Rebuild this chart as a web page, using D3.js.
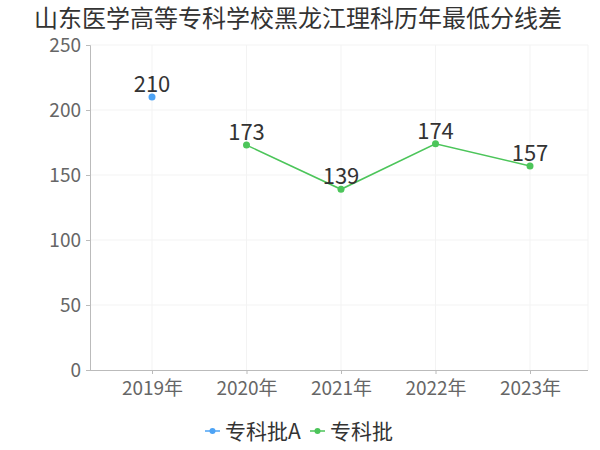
<!DOCTYPE html>
<html><head><meta charset="utf-8">
<script src="https://cdn.jsdelivr.net/npm/d3@7"></script>
<style>body{margin:0;background:#fff;} text{font-family:"Noto Sans CJK SC","Noto Sans",sans-serif;}</style>
</head><body><svg id="c" width="600" height="450"></svg>
<script>
const title = "山东医学高等专科学校黑龙江理科历年最低分线差";
const categories = ["2019年","2020年","2021年","2022年","2023年"];
const seriesNames = ["专科批A","专科批"];
const seriesA = [210, null, null, null, null];
const seriesB = [null, 173, 139, 174, 157];
const yTicks = [0,50,100,150,200,250];
const colors = ["#4da3f5","#4cc55a"];

(function(){
const svg = d3.select("#c");
const pl = 90, pr = 588, pt = 45, pb = 370;
const x = d3.scalePoint().domain(categories).range([152, 530]);
const y = d3.scaleLinear().domain([0,250]).range([pb, pt]);

svg.append("text").attr("x",298).attr("y",27).attr("text-anchor","middle")
  .attr("font-size",24).attr("fill","#333").text(title);

// grid
svg.append("g").selectAll("line").data(yTicks.slice(1)).join("line")
  .attr("x1",pl).attr("x2",pr).attr("y1",d=>y(d)).attr("y2",d=>y(d))
  .attr("stroke","#f3f3f3");
svg.append("g").selectAll("line").data(categories).join("line")
  .attr("x1",d=>x(d)).attr("x2",d=>x(d)).attr("y1",pt).attr("y2",pb)
  .attr("stroke","#f3f3f3");
svg.append("line").attr("x1",pr).attr("x2",pr).attr("y1",pt).attr("y2",pb).attr("stroke","#f3f3f3");

// y axis
const ya = svg.append("g").attr("transform",`translate(${pl},0)`)
  .call(d3.axisLeft(y).tickValues(yTicks).tickSize(4).tickPadding(5));
ya.select(".domain").attr("stroke","#bbb");
ya.selectAll(".tick line").attr("stroke","#bbb");
ya.selectAll("text").attr("font-size",19).attr("fill","#666").style("font-family",'"Noto Sans CJK SC",sans-serif');

// x axis
const xa = svg.append("g").attr("transform",`translate(0,${pb})`)
  .call(d3.axisBottom(x).tickSize(4).tickPadding(8));
xa.select(".domain").attr("d",`M${pl},0.5H${pr}`).attr("stroke","#bbb");
xa.selectAll(".tick line").attr("stroke","#bbb");
xa.selectAll("text").attr("font-size",19).attr("fill","#666").style("font-family",'"Noto Sans CJK SC",sans-serif');

function drawSeries(vals, color){
  const pts = categories.map((c,i)=>({c, v:vals[i]})).filter(d=>d.v!=null);
  const line = d3.line().x(d=>x(d.c)).y(d=>y(d.v));
  svg.append("path").datum(pts).attr("d",line).attr("fill","none").attr("stroke",color).attr("stroke-width",1.5);
  svg.append("g").selectAll("circle").data(pts).join("circle")
    .attr("cx",d=>x(d.c)).attr("cy",d=>y(d.v)).attr("r",3.5).attr("fill",color);
  svg.append("g").selectAll("text").data(pts).join("text")
    .attr("x",d=>x(d.c)).attr("y",d=>y(d.v)-5).attr("text-anchor","middle")
    .attr("font-size",22).attr("fill","#333").text(d=>d.v);
}
drawSeries(seriesA, colors[0]);
drawSeries(seriesB, colors[1]);

// legend
const lg = svg.append("g");
const items = [{n:seriesNames[0],c:colors[0],x:205},{n:seriesNames[1],c:colors[1],x:310}];
items.forEach(it=>{
  lg.append("line").attr("x1",it.x).attr("x2",it.x+15).attr("y1",431).attr("y2",431).attr("stroke",it.c).attr("stroke-width",1.5);
  lg.append("circle").attr("cx",it.x+7.5).attr("cy",431).attr("r",3).attr("fill",it.c);
  lg.append("text").attr("x",it.x+20).attr("y",439).attr("font-size",21).attr("fill","#333").text(it.n);
});
})();
</script></body></html>
